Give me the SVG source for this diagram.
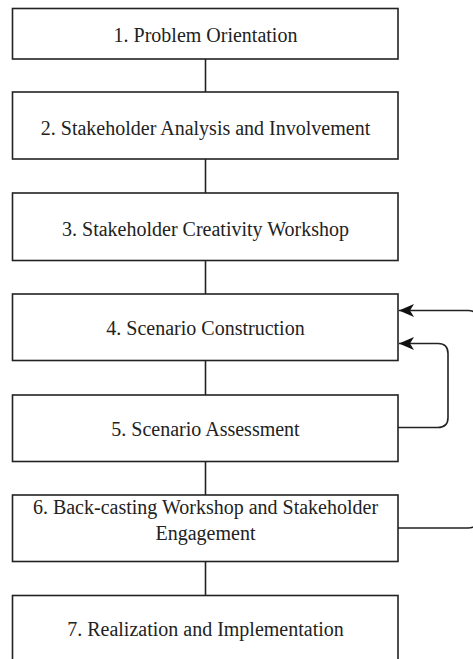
<svg xmlns="http://www.w3.org/2000/svg" width="473" height="659" viewBox="0 0 473 659">
<style>
.box{fill:#fff;stroke:#222;stroke-width:1.6}
text{font-family:'Liberation Serif','Times New Roman',serif;font-size:20px;fill:#222;text-anchor:middle}
.con{fill:none;stroke:#222;stroke-width:1.6}
</style>
<defs>
<marker id="ah" markerWidth="15" markerHeight="13" refX="15" refY="6.5" orient="auto" markerUnits="userSpaceOnUse">
<path d="M0,0 L15,6.5 L0,13 L4,6.5 Z" fill="#111"/>
</marker>
</defs>
<rect width="473" height="659" fill="#fff"/>
<g id="n1"><rect class="box" x="12.5" y="8.5" width="385.5" height="50.5"/><text x="205.5" y="41.5">1. Problem Orientation</text></g>
<g id="n2"><rect class="box" x="12.5" y="92" width="385.5" height="67"/><text x="205.5" y="134.5">2. Stakeholder Analysis and Involvement</text></g>
<g id="n3"><rect class="box" x="12.5" y="193" width="385.5" height="67.5"/><text x="205.5" y="235.5">3. Stakeholder Creativity Workshop</text></g>
<g id="n4"><rect class="box" x="12.5" y="294" width="385.5" height="66.5"/><text x="205.5" y="335">4. Scenario Construction</text></g>
<g id="n5"><rect class="box" x="12.5" y="395" width="385.5" height="66.5"/><text x="205.5" y="436">5. Scenario Assessment</text></g>
<g id="n6"><rect class="box" x="12.5" y="495" width="385.5" height="66.5"/><text x="205.5" y="514">6. Back-casting Workshop and Stakeholder</text><text x="205.5" y="539.5">Engagement</text></g>
<g id="n7"><rect class="box" x="12.5" y="595.5" width="385.5" height="67"/><text x="205.5" y="636">7. Realization and Implementation</text></g>
<g id="connectors">
<line class="con" x1="205.5" y1="59" x2="205.5" y2="92"/>
<line class="con" x1="205.5" y1="159" x2="205.5" y2="193"/>
<line class="con" x1="205.5" y1="260.5" x2="205.5" y2="294"/>
<line class="con" x1="205.5" y1="360.5" x2="205.5" y2="395"/>
<line class="con" x1="205.5" y1="461.5" x2="205.5" y2="495"/>
<line class="con" x1="205.5" y1="561.5" x2="205.5" y2="595.5"/>
<path class="con" d="M398,427.5 H438 Q448,427.5 448,417.5 V353.5 Q448,343.5 438,343.5 H399" marker-end="url(#ah)"/>
<path class="con" d="M398,528 H468 Q478,528 478,518 V320.5 Q478,310.5 468,310.5 H399" marker-end="url(#ah)"/>
</g>
</svg>
